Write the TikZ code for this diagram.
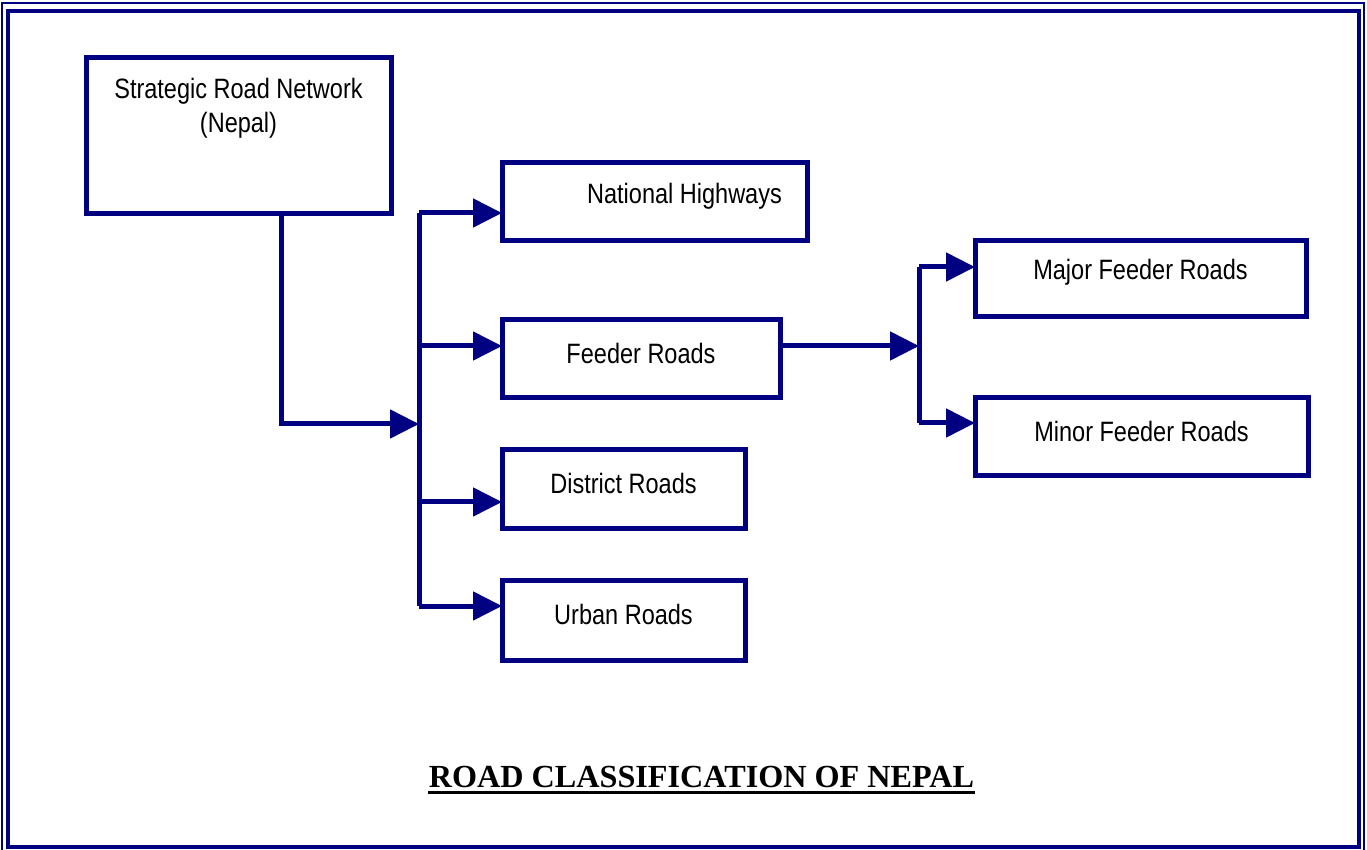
\documentclass[tikz,border=0pt]{standalone}
\usepackage{fontspec}
\usepackage{tikz}
\usetikzlibrary{calc,arrows.meta}
\setmainfont{Liberation Serif}
\newfontfamily\boxfont[FakeStretch=0.84]{Liberation Sans}
\definecolor{navyline}{RGB}{0,0,128}
\newcommand{\px}{0.5pt}

\tikzset{
  roadbox/.style={draw=navyline, line width=5*\px, inner sep=0pt, outer sep=0pt},
  roadtext/.style={font=\boxfont\fontsize{14pt}{17pt}\selectfont, yshift=3pt},
  link/.style={draw=navyline, line width=5*\px},
  linkarrow/.style={link, -{Triangle[length=14.5pt,width=14pt]}}
}

\begin{document}
\begin{tikzpicture}[x=0.5pt, y=-0.5pt]
\useasboundingbox (0, 0) rectangle (1367, 850);
% frame
\draw [navyline, line width=1pt] (2, 3) rectangle (1364, 853);
\draw [navyline, line width=2pt] (8, 11) rectangle (1359, 847);

% boxes
\node [roadbox, minimum width=305*\px, minimum height=156*\px,
  label={[roadtext, yshift=11pt, align=center]center:Strategic Road Network\\(Nepal)}] (srn) at (238.5, 136) {};
\node [roadbox, minimum width=305*\px, minimum height=78*\px,
  label={[roadtext, xshift=15pt]center:National Highways}] (nh) at (654.5, 202) {};
\node [roadbox, minimum width=278*\px, minimum height=78*\px,
  label={[roadtext]center:Feeder Roads}] (fr) at (641, 359) {};
\node [roadbox, minimum width=243*\px, minimum height=78*\px,
  label={[roadtext]center:District Roads}] (dr) at (623.5, 489) {};
\node [roadbox, minimum width=243*\px, minimum height=80*\px,
  label={[roadtext]center:Urban Roads}] (ur) at (623.5, 620) {};
\node [roadbox, minimum width=331*\px, minimum height=76*\px,
  label={[roadtext]center:Major Feeder Roads}] (mjr) at (1140.5, 278.5) {};
\node [roadbox, minimum width=333*\px, minimum height=78*\px,
  label={[roadtext]center:Minor Feeder Roads}] (mnr) at (1141.5, 437) {};

% trunk points
\coordinate (srnout) at ($(srn.south)+(42.5, 0)$);
\coordinate (tmid) at (419, 424);
\coordinate (ttop) at (419, 213);
\coordinate (tbot) at (419, 606);
\coordinate (tfr) at (419, 346);
\coordinate (tdr) at (419, 502);
\coordinate (frout) at (fr.east |- tfr);
\coordinate (smid) at (919, 346);
\coordinate (stop) at (919, 267);
\coordinate (sbot) at (919, 423);

% connectors
\draw [linkarrow] (srnout) |- (tmid);
\draw [link] (ttop) -- (tbot);
\draw [linkarrow] (ttop) -- (ttop -| nh.west);
\draw [linkarrow] (tfr) -- (tfr -| fr.west);
\draw [linkarrow] (tdr) -- (tdr -| dr.west);
\draw [linkarrow] (tbot) -- (tbot -| ur.west);

\draw [linkarrow] (frout) -- (smid);
\draw [link] (stop) -- (sbot);
\draw [linkarrow] (stop) -- (stop -| mjr.west);
\draw [linkarrow] (sbot) -- (sbot -| mnr.west);

% title
\node [anchor=base, inner sep=0pt, font=\bfseries\fontsize{16.1pt}{19pt}\selectfont] (title) at (701.5, 787) {ROAD CLASSIFICATION OF NEPAL};
\draw [line width=1.5pt] ([yshift=-2.75pt]title.base west) -- ([yshift=-2.75pt]title.base east);
\end{tikzpicture}
\end{document}
